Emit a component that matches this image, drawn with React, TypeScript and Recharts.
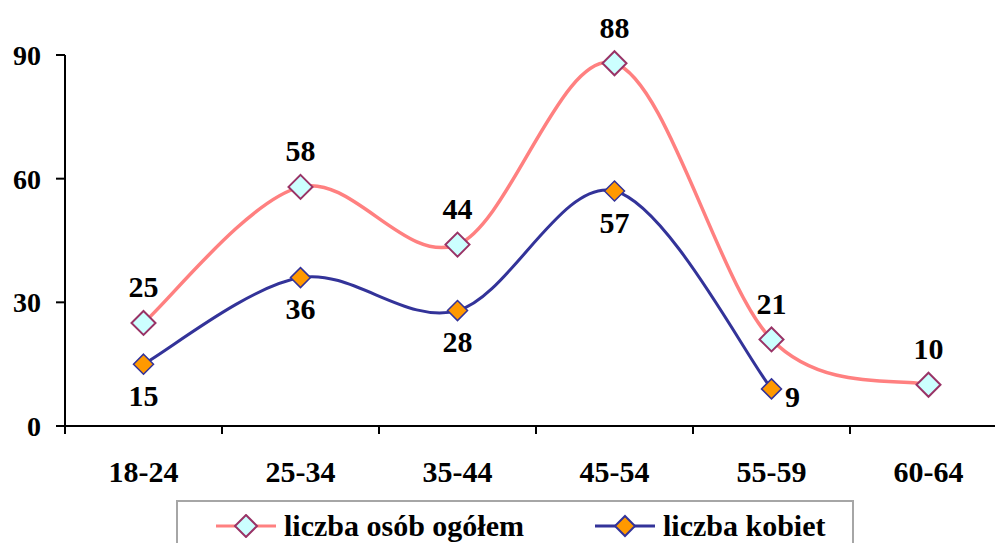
import React from 'react';
import { LineChart, Line, XAxis, YAxis, LabelList } from 'recharts';

const categories = ['18-24', '25-34', '35-44', '45-54', '55-59', '60-64'];
const ogolem = [25, 58, 44, 88, 21, 10];
const kobiety: (number | null)[] = [15, 36, 28, 57, 9, null];
const yTicks = [0, 30, 60, 90];

const data = categories.map((name, i) => ({ name, ogolem: ogolem[i], kobiety: kobiety[i] }));

const FONT = '"Liberation Serif", "Times New Roman", serif';

// Excel-like smoothed line (Catmull-Rom -> bezier)
const smoothCurve = (context: any) => {
  let pts: [number, number][] = [];
  const t = 1 / 6;
  return {
    areaStart() {},
    areaEnd() {},
    lineStart() {
      pts = [];
    },
    lineEnd() {
      if (!pts.length) return;
      context.moveTo(pts[0][0], pts[0][1]);
      for (let i = 0; i < pts.length - 1; i++) {
        const p0 = pts[Math.max(i - 1, 0)];
        const p1 = pts[i];
        const p2 = pts[i + 1];
        const p3 = pts[Math.min(i + 2, pts.length - 1)];
        context.bezierCurveTo(
          p1[0] + (p2[0] - p0[0]) * t,
          p1[1] + (p2[1] - p0[1]) * t,
          p2[0] - (p3[0] - p1[0]) * t,
          p2[1] - (p3[1] - p1[1]) * t,
          p2[0],
          p2[1]
        );
      }
    },
    point(x: number, y: number) {
      pts.push([+x, +y]);
    },
  };
};

const diamond = (fill: string, stroke: string, r: number, sw: number) => (props: any) => {
  const { cx, cy, index, value } = props;
  if (cx == null || cy == null || value == null || (Array.isArray(value) && value[1] == null)) {
    return <g key={`d-${index}`} />;
  }
  return (
    <polygon
      key={`d-${index}`}
      points={`${cx},${cy - r} ${cx + r},${cy} ${cx},${cy + r} ${cx - r},${cy}`}
      fill={fill}
      stroke={stroke}
      strokeWidth={sw}
    />
  );
};

const labelText = (x: number, y: number, v: any, key: string) => (
  <text
    key={key}
    x={x}
    y={y}
    textAnchor="middle"
    dominantBaseline="central"
    fontFamily={FONT}
    fontWeight="bold"
    fontSize={30}
    fill="#000"
  >
    {v}
  </text>
);

const topLabel = (props: any) => {
  const { x, y, value, index } = props;
  if (value == null) return null;
  return labelText(x, y - 36, value, `t-${index}`);
};

const bottomLabel = (props: any) => {
  const { x, y, value, index } = props;
  if (value == null) return null;
  if (index === 4) return labelText(x + 21, y + 8, value, `b-${index}`);
  return labelText(x, y + 31, value, `b-${index}`);
};

const CatTick = (props: any) => {
  const { x, y, payload } = props;
  const half = payload && payload.offset ? payload.offset : 78.5;
  return (
    <g>
      <line x1={x - half} y1={y} x2={x - half} y2={y + 8} stroke="#000" strokeWidth={2} />
      <text
        x={x}
        y={y + 45}
        textAnchor="middle"
        dominantBaseline="central"
        fontFamily={FONT}
        fontWeight="bold"
        fontSize={30}
        fill="#000"
      >
        {payload.value}
      </text>
    </g>
  );
};

const LegendMark = ({ line, fill, stroke, r }: { line: string; fill: string; stroke: string; r: number }) => (
  <svg width={62} height={24} style={{ display: 'block' }}>
    <line x1={0} y1={12} x2={60} y2={12} stroke={line} strokeWidth={3} />
    <polygon points={`30,${12 - r} ${30 + r},12 30,${12 + r} ${30 - r},12`} fill={fill} stroke={stroke} strokeWidth={2} />
  </svg>
);

export default function App() {
  return (
    <div
      style={{
        position: 'absolute',
        left: 0,
        top: 0,
        width: 995,
        height: 543,
        overflow: 'hidden',
        background: '#fff',
      }}
    >
      <LineChart width={1010} height={543} data={data} margin={{ top: 55, right: 3, bottom: 57, left: 0 }}>
        <XAxis
          dataKey="name"
          scale="band"
          height={60}
          axisLine={{ stroke: '#000', strokeWidth: 2 }}
          tickLine={false}
          tickSize={0}
          tickMargin={0}
          tick={<CatTick />}
          interval={0}
        />
        <YAxis
          width={65}
          domain={[0, 90]}
          ticks={yTicks}
          axisLine={{ stroke: '#000', strokeWidth: 2 }}
          tickLine={{ stroke: '#000', strokeWidth: 2 }}
          tickSize={9}
          tickMargin={15}
          tick={{ fontFamily: FONT, fontWeight: 'bold', fontSize: 28, fill: '#000' }}
        />
        <Line
          dataKey="ogolem"
          type={smoothCurve as any}
          stroke="#FF8080"
          strokeWidth={3.5}
          dot={diamond('#CCFFFF', '#993366', 12, 2)}
          activeDot={false}
          isAnimationActive={false}
        >
          <LabelList dataKey="ogolem" content={topLabel} />
        </Line>
        <Line
          dataKey="kobiety"
          type={smoothCurve as any}
          stroke="#333399"
          strokeWidth={3}
          dot={diamond('#FF9900', '#333399', 10, 1.5)}
          activeDot={false}
          connectNulls={false}
          isAnimationActive={false}
        >
          <LabelList dataKey="kobiety" content={bottomLabel} />
        </Line>
      </LineChart>
      <div
        style={{
          position: 'absolute',
          left: 176,
          top: 500,
          width: 678,
          height: 60,
          border: '2px solid #A6A6A6',
          boxSizing: 'border-box',
          fontFamily: FONT,
          fontWeight: 'bold',
          fontSize: 30,
          color: '#000',
        }}
      >
        <div style={{ position: 'absolute', left: 38, top: 7, display: 'flex', alignItems: 'center', whiteSpace: 'nowrap' }}>
          <LegendMark line="#FF8080" fill="#CCFFFF" stroke="#993366" r={11} />
          <span style={{ marginLeft: 6 }}>liczba osób ogółem</span>
        </div>
        <div style={{ position: 'absolute', left: 417, top: 7, display: 'flex', alignItems: 'center', whiteSpace: 'nowrap' }}>
          <LegendMark line="#333399" fill="#FF9900" stroke="#333399" r={10} />
          <span style={{ marginLeft: 6 }}>liczba kobiet</span>
        </div>
      </div>
    </div>
  );
}
